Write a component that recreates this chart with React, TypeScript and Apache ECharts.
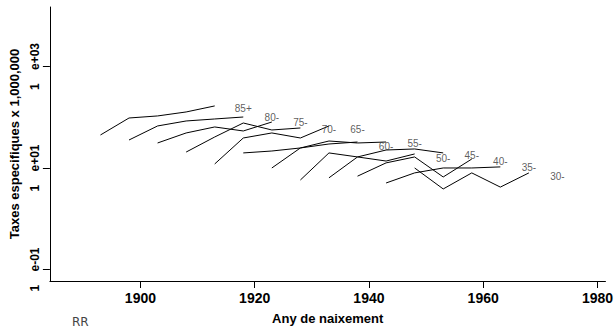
import React, { useEffect, useRef } from "react";
import * as echarts from "echarts";

// Age groups (one line per group), each plotted against birth cohort
const ageGroups = ["85+", "80-", "75-", "70-", "65-", "60-", "55-", "50-", "45-", "40-", "35-", "30-"];

const cohorts85 = [1893, 1898, 1903, 1908, 1913];
const cohorts80 = [1898, 1903, 1908, 1913, 1918];
const cohorts75 = [1903, 1908, 1913, 1918, 1923];
const cohorts70 = [1908, 1913, 1918, 1923, 1928];
const cohorts65 = [1913, 1918, 1923, 1928, 1933];
const cohorts60 = [1918, 1923, 1928, 1933, 1938];
const cohorts55 = [1923, 1928, 1933, 1938, 1943];
const cohorts50 = [1928, 1933, 1938, 1943, 1948];
const cohorts45 = [1933, 1938, 1943, 1948, 1953];
const cohorts40 = [1938, 1943, 1948, 1953, 1958];
const cohorts35 = [1943, 1948, 1953, 1958, 1963];
const cohorts30 = [1948, 1953, 1958, 1963, 1968];

const rates85 = [44.7, 96.6, 106, 127, 167];
const rates80 = [35.6, 67.3, 84.4, 92.4, 101];
const rates75 = [31.1, 49.0, 64.3, 53.6, 80.5];
const rates70 = [20.6, 40.8, 77.0, 56.1, 61.4];
const rates65 = [12.0, 39.0, 49.0, 39.0, 67.3];
const rates60 = [19.8, 21.6, 24.8, 29.7, 32.5];
const rates55 = [10.0, 24.8, 34.0, 31.1, 32.5];
const rates50 = [5.8, 19.8, 16.5, 13.7, 18.9];
const rates45 = [6.4, 16.5, 22.6, 23.7, 19.8];
const rates40 = [6.9, 12.6, 16.5, 6.65, 15.0];
const rates35 = [5.06, 8.0, 10.0, 10.0, 10.5];
const rates30 = [10.0, 3.86, 8.0, 4.2, 8.0];

// Where each group's label sits (cohort year, rate)
const labelCohorts = [1918, 1923, 1928, 1933, 1938, 1943, 1948, 1953, 1958, 1963, 1968, 1973];
const labelRates = [146, 96.6, 77, 56.1, 58.6, 27.1, 29.7, 15.7, 18.0, 13.7, 10.0, 6.95];

const xTicks = [1900, 1920, 1940, 1960, 1980];
const yTicks = [0.1, 10, 1000];

const allCohorts = [cohorts85, cohorts80, cohorts75, cohorts70, cohorts65, cohorts60, cohorts55, cohorts50, cohorts45, cohorts40, cohorts35, cohorts30];
const allRates = [rates85, rates80, rates75, rates70, rates65, rates60, rates55, rates50, rates45, rates40, rates35, rates30];

const FONT = "'Liberation Sans', Arial, Helvetica, sans-serif";

function fmtY(v: number): string {
  const e = Math.round(Math.log10(v));
  const sign = e < 0 ? "-" : "+";
  const a = Math.abs(e);
  return "1\u00a0\u00a0\u00a0\u00a0e" + sign + (a < 10 ? "0" + a : String(a));
}

export default function App() {
  const ref = useRef<HTMLDivElement>(null);
  useEffect(() => {
    if (!ref.current) return;
    const chart = echarts.init(ref.current, null, { renderer: "svg" });
    const lineSeries = ageGroups.map((g, i) => ({
      type: "line",
      name: g,
      data: allCohorts[i].map((c, j) => [c, allRates[i][j]]),
      showSymbol: false,
      symbol: "none",
      lineStyle: { color: "#000", width: 1 },
      silent: true,
      z: 2,
    }));
    const labelSeries = {
      type: "scatter",
      name: "labels",
      symbolSize: 0,
      itemStyle: { color: "#333" },
      data: ageGroups.map((g, i) => ({ name: g, value: [labelCohorts[i], labelRates[i]] })),
      label: {
        show: true,
        position: "inside",
        formatter: (p: any) => p.name,
        color: "#333",
        textBorderWidth: 0,
        textBorderColor: "transparent",
        fontSize: 10,
        fontFamily: FONT,
      },
      silent: true,
      z: 3,
    };
    chart.setOption({
      animation: false,
      backgroundColor: "#fff",
      grid: { left: 48, right: 10, top: 7, bottom: 50, containLabel: false },
      xAxis: {
        type: "value",
        min: 1884.15,
        max: 1981.4,
        axisLine: { show: true, lineStyle: { color: "#000", width: 1 } },
        axisTick: { show: true, length: 7, customValues: xTicks, lineStyle: { color: "#000", width: 1 } },
        axisLabel: {
          customValues: xTicks,
          margin: 10,
          color: "#000",
          fontSize: 14,
          fontWeight: "bold",
          fontFamily: FONT,
          formatter: (v: number) => String(Math.round(v)),
        },
        splitLine: { show: false },
        name: "Any de naixement",
        nameLocation: "middle",
        nameGap: 31,
        nameTextStyle: { color: "#000", fontSize: 13, fontWeight: "bold", fontFamily: FONT },
      },
      yAxis: {
        type: "log",
        logBase: 10,
        min: 0.0593,
        max: 14860,
        axisLine: { show: true, lineStyle: { color: "#000", width: 1 } },
        axisTick: { show: true, length: 7, customValues: yTicks, lineStyle: { color: "#000", width: 1 } },
        axisLabel: {
          customValues: yTicks,
          rotate: 90,
          margin: 9,
          color: "#000",
          fontSize: 12,
          fontWeight: "bold",
          fontFamily: FONT,
          formatter: (v: number) => fmtY(v),
        },
        splitLine: { show: false },
        name: "Taxes especifiques x 1,000,000",
        nameLocation: "middle",
        nameRotate: 90,
        nameGap: 24,
        nameTextStyle: { color: "#000", fontSize: 13, fontWeight: "bold", fontFamily: FONT },
      },
      graphic: [
        {
          type: "text",
          left: 72,
          top: 316,
          style: { text: "RR", fill: "#444", fontSize: 12, fontFamily: "'DejaVu Sans', sans-serif" },
        },
      ],
      series: [...lineSeries, labelSeries],
    });
    return () => chart.dispose();
  }, []);
  return <div ref={ref} style={{ position: "fixed", left: 0, top: 0, width: 616, height: 331 }} />;
}
